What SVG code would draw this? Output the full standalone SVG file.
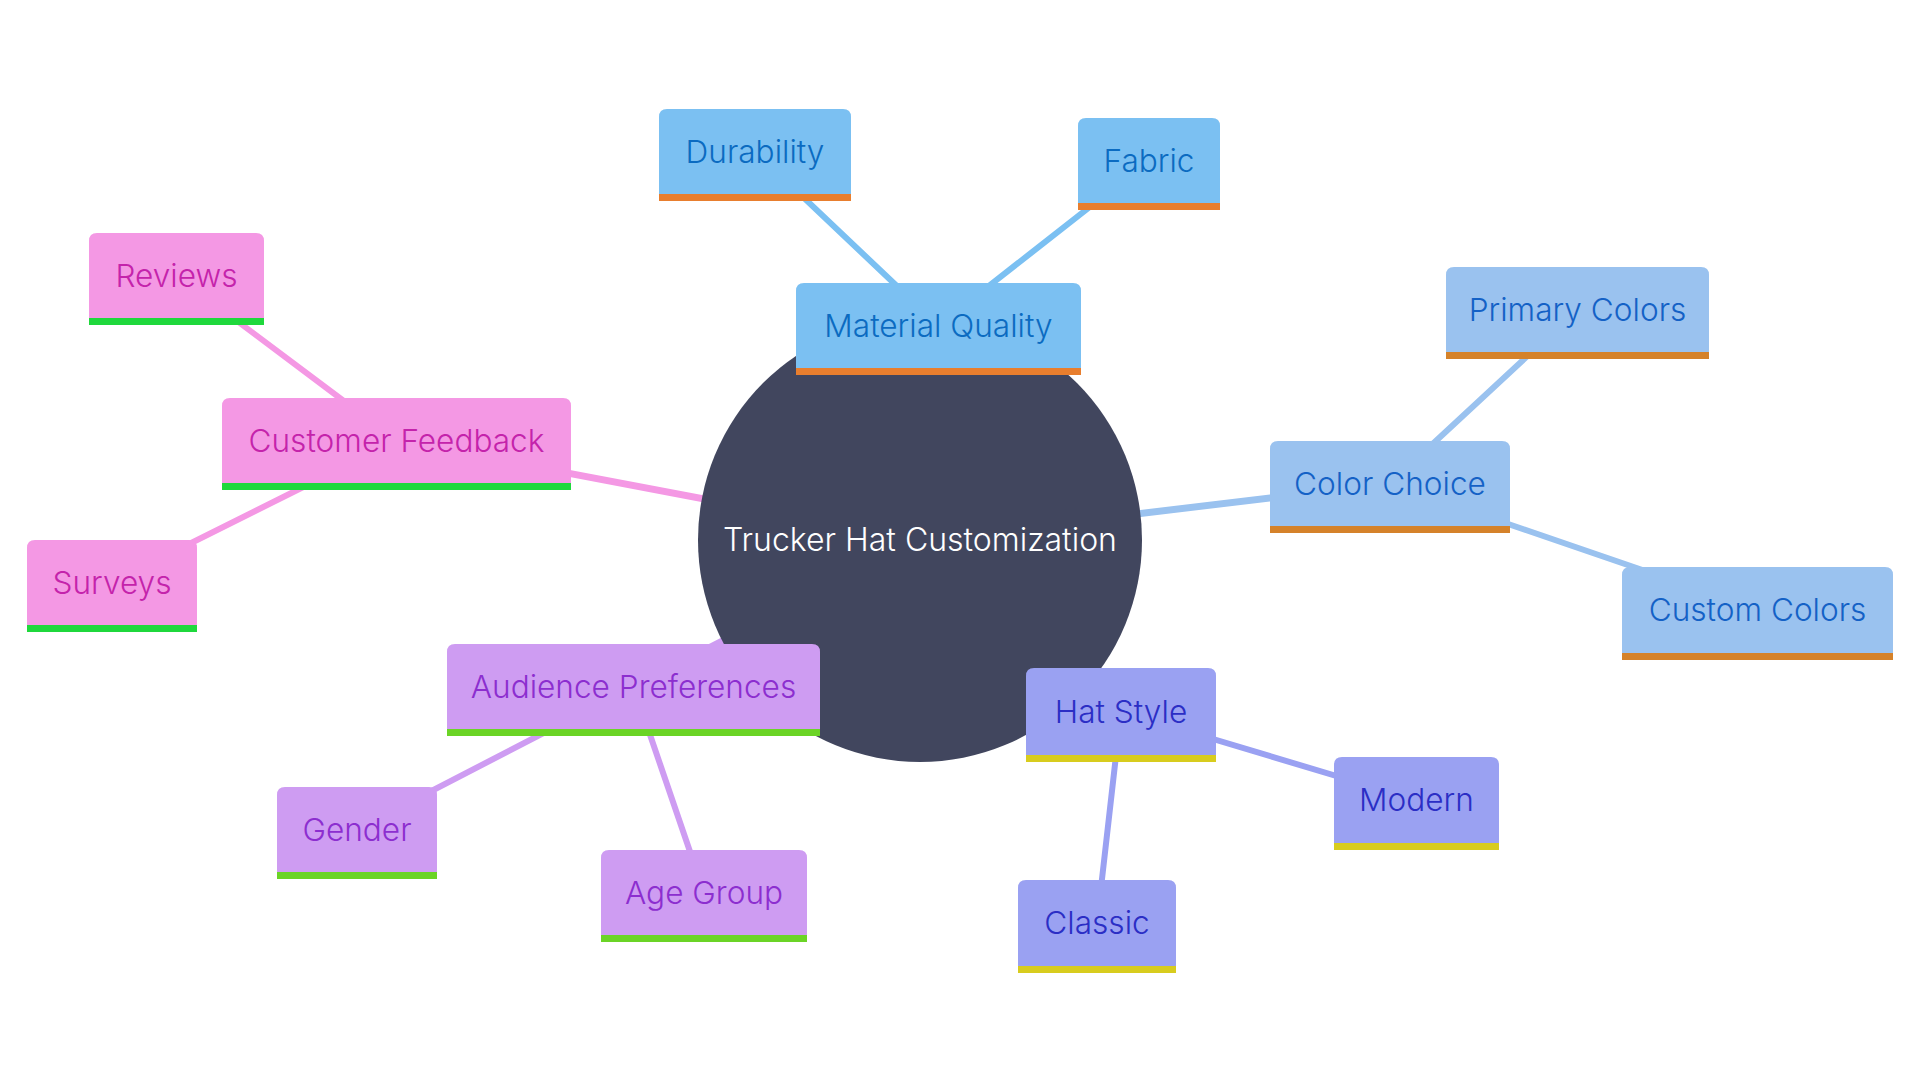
<svg xmlns="http://www.w3.org/2000/svg" width="1920" height="1080" viewBox="0 0 1920 1080">
<style>
text{font-family:Inter,"Noto Sans","Liberation Sans",sans-serif;font-size:31.6px;font-weight:300;text-anchor:middle}
.root text{fill:#ffffff;font-size:32px}
.e{fill:none;stroke-linecap:round}
.l1{stroke-width:7}
.l2{stroke-width:6}
.mq .b{fill:#7bc0f2}.emq{stroke:#7bc0f2}.mq text{fill:#0b6bc1}.mq .bar{fill:#e87e2e}
.cc .b{fill:#9ac2ef}.ecc{stroke:#9ac2ef}.cc text{fill:#1461c6}.cc .bar{fill:#d5822a}
.hs .b{fill:#9aa1f2}.ehs{stroke:#9aa1f2}.hs text{fill:#2b2ec5}.hs .bar{fill:#d8cc1e}
.ap .b{fill:#ce9cf2}.eap{stroke:#ce9cf2}.ap text{fill:#8c2ecf}.ap .bar{fill:#6bd426}
.cf .b{fill:#f498e4}.ecf{stroke:#f498e4}.cf text{fill:#c423ab}.cf .bar{fill:#1fd83c}
</style>
<rect width="1920" height="1080" fill="#ffffff"/>
<g id="connectors">
<line class="e l1 emq" x1="920" y1="540" x2="938.5" y2="325.5"/>
<line class="e l2 emq" x1="938.5" y1="325.5" x2="755" y2="151.5"/>
<line class="e l2 emq" x1="938.5" y1="325.5" x2="1149" y2="160.5"/>
<line class="e l1 ecf" x1="920" y1="540" x2="396.5" y2="440.5"/>
<line class="e l2 ecf" x1="396.5" y1="440.5" x2="176.5" y2="275.5"/>
<line class="e l2 ecf" x1="396.5" y1="440.5" x2="112" y2="582.5"/>
<line class="e l1 ecc" x1="920" y1="540" x2="1390" y2="483.5"/>
<line class="e l2 ecc" x1="1390" y1="483.5" x2="1577.5" y2="309.5"/>
<line class="e l2 ecc" x1="1390" y1="483.5" x2="1757.5" y2="609.5"/>
<line class="e l1 eap" x1="920" y1="540" x2="633.5" y2="686.5"/>
<line class="e l2 eap" x1="633.5" y1="686.5" x2="357" y2="829.5"/>
<line class="e l2 eap" x1="633.5" y1="686.5" x2="704" y2="892.5"/>
<line class="e l1 ehs" x1="920" y1="540" x2="1121" y2="711.5"/>
<line class="e l2 ehs" x1="1121" y1="711.5" x2="1416.5" y2="800"/>
<line class="e l2 ehs" x1="1121" y1="711.5" x2="1097" y2="923"/>
</g>
<g id="root" class="root">
<circle cx="920" cy="540" r="222" fill="#41465e"/>
<text x="920" y="551">Trucker Hat Customization</text>
</g>
<g id="material-quality" class="mq">
<path class="b" d="M796,375V291Q796,283 804,283H1073Q1081,283 1081,291V375Z"/>
<rect class="bar" x="796" y="368" width="285" height="7"/>
<text x="938.5" y="337">Material Quality</text>
</g>
<g id="durability" class="mq">
<path class="b" d="M659,201V117Q659,109 667,109H843Q851,109 851,117V201Z"/>
<rect class="bar" x="659" y="194" width="192" height="7"/>
<text x="755" y="163">Durability</text>
</g>
<g id="fabric" class="mq">
<path class="b" d="M1078,210V126Q1078,118 1086,118H1212Q1220,118 1220,126V210Z"/>
<rect class="bar" x="1078" y="203" width="142" height="7"/>
<text x="1149" y="172">Fabric</text>
</g>
<g id="customer-feedback" class="cf">
<path class="b" d="M222,490V406Q222,398 230,398H563Q571,398 571,406V490Z"/>
<rect class="bar" x="222" y="483" width="349" height="7"/>
<text x="396.5" y="452">Customer Feedback</text>
</g>
<g id="reviews" class="cf">
<path class="b" d="M89,325V241Q89,233 97,233H256Q264,233 264,241V325Z"/>
<rect class="bar" x="89" y="318" width="175" height="7"/>
<text x="176.5" y="287">Reviews</text>
</g>
<g id="surveys" class="cf">
<path class="b" d="M27,632V548Q27,540 35,540H189Q197,540 197,548V632Z"/>
<rect class="bar" x="27" y="625" width="170" height="7"/>
<text x="112" y="594">Surveys</text>
</g>
<g id="color-choice" class="cc">
<path class="b" d="M1270,533V449Q1270,441 1278,441H1502Q1510,441 1510,449V533Z"/>
<rect class="bar" x="1270" y="526" width="240" height="7"/>
<text x="1390" y="495">Color Choice</text>
</g>
<g id="primary-colors" class="cc">
<path class="b" d="M1446,359V275Q1446,267 1454,267H1701Q1709,267 1709,275V359Z"/>
<rect class="bar" x="1446" y="352" width="263" height="7"/>
<text x="1577.5" y="321">Primary Colors</text>
</g>
<g id="custom-colors" class="cc">
<path class="b" d="M1622,660V575Q1622,567 1630,567H1885Q1893,567 1893,575V660Z"/>
<rect class="bar" x="1622" y="653" width="271" height="7"/>
<text x="1757.5" y="621">Custom Colors</text>
</g>
<g id="audience-preferences" class="ap">
<path class="b" d="M447,736V652Q447,644 455,644H812Q820,644 820,652V736Z"/>
<rect class="bar" x="447" y="729" width="373" height="7"/>
<text x="633.5" y="698">Audience Preferences</text>
</g>
<g id="gender" class="ap">
<path class="b" d="M277,879V795Q277,787 285,787H429Q437,787 437,795V879Z"/>
<rect class="bar" x="277" y="872" width="160" height="7"/>
<text x="357" y="841">Gender</text>
</g>
<g id="age-group" class="ap">
<path class="b" d="M601,942V858Q601,850 609,850H799Q807,850 807,858V942Z"/>
<rect class="bar" x="601" y="935" width="206" height="7"/>
<text x="704" y="904">Age Group</text>
</g>
<g id="hat-style" class="hs">
<path class="b" d="M1026,762V676Q1026,668 1034,668H1208Q1216,668 1216,676V762Z"/>
<rect class="bar" x="1026" y="755" width="190" height="7"/>
<text x="1121" y="723">Hat Style</text>
</g>
<g id="modern" class="hs">
<path class="b" d="M1334,850V765Q1334,757 1342,757H1491Q1499,757 1499,765V850Z"/>
<rect class="bar" x="1334" y="843" width="165" height="7"/>
<text x="1416.5" y="811">Modern</text>
</g>
<g id="classic" class="hs">
<path class="b" d="M1018,973V888Q1018,880 1026,880H1168Q1176,880 1176,888V973Z"/>
<rect class="bar" x="1018" y="966" width="158" height="7"/>
<text x="1097" y="934">Classic</text>
</g>
</svg>
